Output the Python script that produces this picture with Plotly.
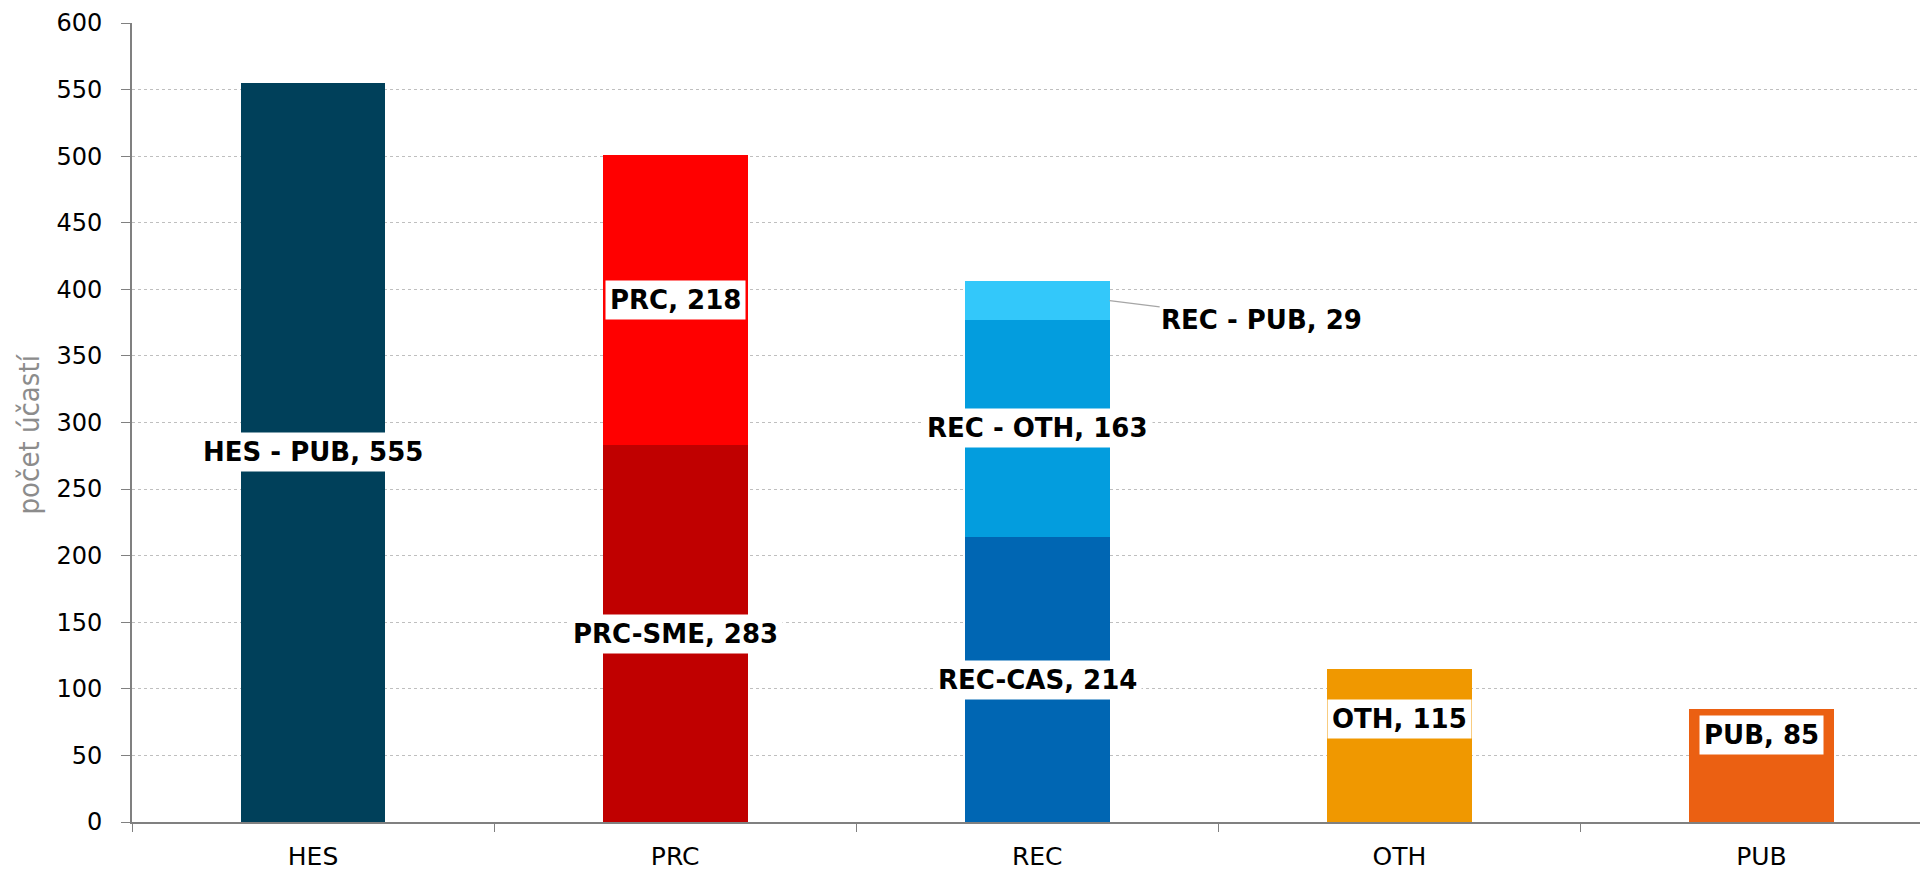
import plotly.graph_objects as go

categories = ["HES", "PRC", "REC", "OTH", "PUB"]

segment_names = ["HES - PUB", "PRC-SME", "PRC", "REC-CAS", "REC - OTH", "REC - PUB", "OTH", "PUB"]
segment_category = ["HES", "PRC", "PRC", "REC", "REC", "REC", "OTH", "PUB"]
segment_values = [555, 283, 218, 214, 163, 29, 115, 85]
segment_colors = ["#00405A", "#C00000", "#FF0000", "#0066B3", "#039DDE", "#33C8FA", "#F09800", "#EB6012"]

BAR_WIDTH = 0.4
LABEL_FONT = dict(family="DejaVu Sans", size=26, color="black", weight="bold")

fig = go.Figure()

for name, cat, val, col in zip(segment_names, segment_category, segment_values, segment_colors):
    fig.add_trace(
        go.Bar(
            x=[cat],
            y=[val],
            name=name,
            marker=dict(color=col, line=dict(width=0)),
            width=BAR_WIDTH,
            hoverinfo="skip",
        )
    )

# data labels, centred in each segment (OTH and PUB sit a little higher)
base = {c: 0 for c in categories}
label_shift = {"OTH": 26, "PUB": 30}
for name, cat, val in zip(segment_names, segment_category, segment_values):
    mid = base[cat] + val / 2
    base[cat] += val
    text = f"{name}, {val}"
    if name == "REC - PUB":
        idx = categories.index(cat)
        fig.add_annotation(
            x=idx + BAR_WIDTH / 2,
            y=mid,
            xref="x",
            yref="y",
            text=text,
            showarrow=True,
            arrowhead=0,
            arrowwidth=1.2,
            arrowcolor="#a6a6a6",
            ax=152,
            ay=19,
            font=LABEL_FONT,
        )
        continue
    fig.add_annotation(
        x=cat,
        y=mid,
        text=text,
        showarrow=False,
        bgcolor="white",
        borderpad=4,
        yshift=label_shift.get(name, 0),
        font=LABEL_FONT,
    )

# y axis title, sits a bit below the middle of the axis like the original
fig.add_annotation(
    text="počet účastí",
    xref="paper",
    x=0,
    xanchor="center",
    xshift=-103,
    yref="y",
    y=291,
    textangle=-90,
    showarrow=False,
    font=dict(family="DejaVu Sans Condensed", size=29, color="#8c8c8c"),
)

# page body has an 8px margin, so the figure is a bit smaller than the window
fig.update_layout(
    width=1920,
    height=862,
    barmode="stack",
    showlegend=False,
    plot_bgcolor="white",
    paper_bgcolor="white",
    margin=dict(l=124, r=0, t=15, b=48),
    font=dict(family="DejaVu Sans", color="black"),
)

fig.update_xaxes(
    type="category",
    categoryorder="array",
    categoryarray=categories,
    range=[-0.5, 4.46],
    showline=True,
    linecolor="#808080",
    linewidth=2,
    ticks="outside",
    tickson="boundaries",
    ticklen=8,
    tickcolor="#808080",
    tickwidth=1,
    ticklabelstandoff=11,
    tickfont=dict(family="DejaVu Sans", size=25, color="black"),
    showgrid=False,
    automargin=False,
)

fig.update_yaxes(
    range=[0, 600],
    dtick=50,
    showline=True,
    linecolor="#808080",
    linewidth=2,
    ticks="outside",
    ticklen=9,
    tickcolor="#808080",
    tickwidth=1,
    ticklabelstandoff=14,
    tickfont=dict(family="DejaVu Sans", size=24, color="black"),
    showgrid=True,
    gridcolor="#bfbfbf",
    griddash="dot",
    gridwidth=1,
    zeroline=False,
    automargin=False,
)

fig.write_html("out.html")
